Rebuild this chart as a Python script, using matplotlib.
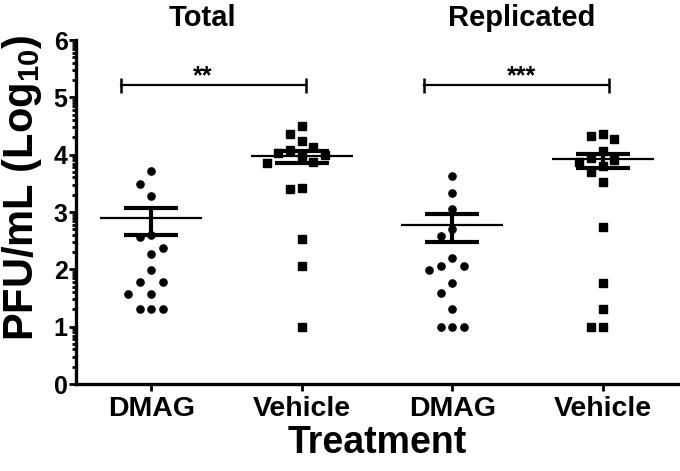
import numpy as np
import matplotlib
matplotlib.use('Agg')
import matplotlib.pyplot as plt

plt.rcParams['font.family'] = ['Liberation Sans', 'DejaVu Sans']
plt.rcParams['font.weight'] = 'bold'
plt.rcParams['mathtext.fontset'] = 'custom'
plt.rcParams['mathtext.rm'] = 'Liberation Sans:bold'
plt.rcParams['mathtext.bf'] = 'Liberation Sans:bold'

# data (log10 PFU/mL)
categories = ['DMAG', 'Vehicle', 'DMAG', 'Vehicle']
groups = ['Total', 'Replicated']
stars = ['**', '***']
dmag_total = [3.72, 3.48, 3.28, 2.60, 2.56, 2.38, 2.27, 1.99, 1.78, 1.78, 1.57, 1.57, 1.3, 1.3, 1.3]
vehicle_total = [4.50, 4.36, 4.24, 4.13, 4.08, 4.03, 4.00, 3.97, 3.88, 3.85, 3.42, 3.40, 2.53, 2.06, 1.0]
dmag_repl = [3.63, 3.33, 3.05, 2.70, 2.58, 2.19, 2.06, 2.06, 1.98, 1.76, 1.58, 1.3, 1.0, 1.0, 1.0]
vehicle_repl = [4.36, 4.33, 4.27, 4.06, 3.95, 3.91, 3.88, 3.81, 3.70, 3.53, 2.74, 1.76, 1.3, 1.0, 1.0]
means = [2.90, 3.98, 2.77, 3.92]
sem_hi = [3.07, 4.07, 2.96, 4.02]
sem_lo = [2.60, 3.85, 2.48, 3.77]
bracket_y = 5.21


def swarm(vals, dx=0.0775, thr=0.245):
    # simple column scatter: same slot only if far enough apart vertically
    order = np.argsort(vals)[::-1]
    slots = [0, -1, 1, -2, 2, -3, 3]
    placed = []
    offs = np.zeros(len(vals))
    for i in order:
        for s in slots:
            if all(not (ps == s and abs(pv - vals[i]) < thr) for ps, pv in placed):
                placed.append((s, vals[i]))
                offs[i] = s * dx
                break
    return offs


fig = plt.figure(figsize=(6.8, 4.71), dpi=100)
ax = fig.add_axes([76 / 680, 87 / 471, 602 / 680, 344 / 471])

series = [dmag_total, vehicle_total, dmag_repl, vehicle_repl]
markers = ['o', 's', 'o', 's']
for i, vals in enumerate(series):
    x = i + 1
    vals = np.array(vals)
    ax.plot(x + swarm(vals), vals, linestyle='none', marker=markers[i],
            color='black', markersize=5.2, clip_on=False, zorder=3)
    ax.hlines(means[i], x - 0.34, x + 0.34, color='black', lw=1.6, zorder=4)
    ax.vlines(x, sem_lo[i], sem_hi[i], color='black', lw=3, zorder=4)
    ax.hlines([sem_lo[i], sem_hi[i]], x - 0.18, x + 0.18, color='black', lw=3, zorder=4)

# significance brackets and group titles
for k, (x0, x1) in enumerate([(0.8, 2.03), (2.81, 4.04)]):
    ax.plot([x0, x1], [bracket_y, bracket_y], color='black', lw=1.6, clip_on=False)
    ax.vlines([x0, x1], bracket_y - 0.13, bracket_y + 0.13, color='black', lw=1.8)
    xc = 1.34 + 2.12 * k
    ax.text(xc, bracket_y + 0.03, stars[k], ha='center', va='baseline', fontsize=18, fontweight='bold')
    ax.text(xc, 6.25, groups[k], ha='center', va='baseline', fontsize=21, fontweight='bold', clip_on=False)

ax.set_xlim(0.5, 4.5)
ax.set_ylim(0, 6)
ax.set_xticks([1, 2, 3, 4])
ax.set_xticklabels(categories, fontsize=20.5, fontweight='bold')
ax.set_yticks(range(7))
ax.set_yticklabels([str(v) for v in range(7)], fontsize=18, fontweight='bold')
minor = [n + np.log10(k) for n in range(6) for k in range(2, 10)]
ax.set_yticks(minor, minor=True)

for side in ['top', 'right']:
    ax.spines[side].set_visible(False)
for side in ['left', 'bottom']:
    ax.spines[side].set_linewidth(2.4)
ax.tick_params(axis='x', which='major', length=5, width=2, pad=4)
ax.tick_params(axis='y', which='major', length=5, width=2, pad=1)
ax.tick_params(axis='y', which='minor', length=3, width=2)

fig.text(22 / 680, 1 - 188 / 471, r'PFU/mL (Log$_{10}$)', rotation=90, ha='center', va='center',
         fontsize=30, fontweight='bold')
fig.text(377 / 680, 1 - 453 / 471, 'Treatment', ha='center', va='baseline', fontsize=27, fontweight='bold')

fig.savefig('out.png', dpi=100)
